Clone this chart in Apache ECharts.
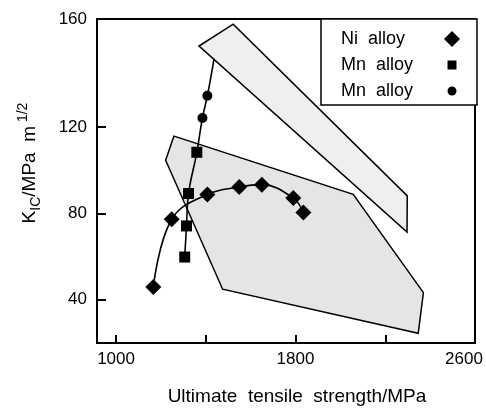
<!DOCTYPE html>
<html>
<head>
<meta charset="utf-8">
<script src="https://cdn.jsdelivr.net/npm/echarts@6/dist/echarts.min.js"></script>
<style>html,body{margin:0;padding:0;background:#fff;}#c{width:486px;height:408px;}</style>
</head>
<body>
<div id="c"></div>
<script>
// ---- data ----
var niX = [1166, 1248, 1407, 1549, 1650, 1790, 1835];
var niY = [45.9, 77.3, 88.8, 92.2, 93.3, 87.1, 80.4];
var mnSqX = [1306, 1314, 1323, 1360];
var mnSqY = [59.8, 74.2, 89.2, 108.3];
var mnCirX = [1385, 1407];
var mnCirY = [124.2, 134.5];
var mnCurveEndX = [1437];
var mnCurveEndY = [151.7];
var poly1X = [1258, 1221, 1475, 2347, 2370, 2057];
var poly1Y = [115.8, 104.6, 44.9, 24.5, 43.3, 88.8];
var poly2X = [1370, 1522, 2298, 2297];
var poly2Y = [157.5, 167.6, 88.1, 71.4];
var xTickValues = [1000, 1400, 1800, 2200];
var xLabelValues = [1000, 1800, 2600];
var yTickValues = [40, 80, 120];
var yLabelValues = [40, 80, 120, 170];
var yLabelTexts = {40: '40', 80: '80', 120: '120', 170: '160'};
var legendNames = {'Ni alloy': 'Ni  alloy', 'Mn alloy A': 'Mn  alloy', 'Mn alloy B': 'Mn  alloy'};

function pairs(xs, ys) { return xs.map(function (x, i) { return [x, ys[i]]; }); }
var FONT = 'Liberation Sans, Arial, Helvetica, sans-serif';

function polySeries(xs, ys, fill) {
  return {
    type: 'custom', coordinateSystem: 'cartesian2d', silent: true, z: 1,
    data: pairs(xs, ys),
    renderItem: function (params, api) {
      if (params.dataIndex !== 0) return null;
      var pts = xs.map(function (x, i) { return api.coord([x, ys[i]]); });
      return { type: 'polygon', shape: { points: pts }, style: { fill: fill, stroke: '#000', lineWidth: 1.5 } };
    }
  };
}

var chart = echarts.init(document.getElementById('c'), null, { renderer: 'canvas' });
chart.setOption({
  animation: false,
  backgroundColor: '#fff',
  grid: { left: 97, right: 11, top: 19, bottom: 65, outerBoundsMode: 'none', containLabel: false,
    show: true, borderColor: '#000', borderWidth: 2, backgroundColor: 'transparent' },
  legend: {
    orient: 'vertical', left: 321, top: 19, align: 'right',
    padding: [11, 17, 5, 20], itemGap: 8, itemWidth: 16, itemHeight: 16,
    backgroundColor: '#fff', borderColor: '#000', borderWidth: 1.5, borderRadius: 0,
    selectedMode: false,
    data: [
      { name: 'Ni alloy', icon: 'path://M8,0L16,8L8,16L0,8Z' },
      { name: 'Mn alloy A', icon: 'path://M0,0M16,16M3.5,3.5L12.5,3.5L12.5,12.5L3.5,12.5Z' },
      { name: 'Mn alloy B', icon: 'path://M0,0M16,16M3.5,8A4.5,4.5,0,1,1,12.5,8A4.5,4.5,0,1,1,3.5,8Z' }
    ],
    formatter: function (n) { return '{t|' + legendNames[n] + '}'; },
    textStyle: { fontFamily: FONT, fontSize: 18, color: '#000',
      rich: { t: { width: 98, align: 'left', fontFamily: FONT, fontSize: 18, lineHeight: 16, color: '#000' } } }
  },
  xAxis: {
    type: 'value', min: 915, max: 2600,
    splitLine: { show: false },
    axisLine: { show: true, onZero: false, lineStyle: { color: '#000', width: 2 } },
    axisTick: { show: true, inside: true, length: 8, customValues: xTickValues, lineStyle: { color: '#000', width: 2 } },
    axisLabel: {
      customValues: xLabelValues, margin: 8, color: '#000', fontFamily: FONT, fontSize: 17,
      formatter: function (v) { return v === 2600 ? '{r|2600}' : String(v); },
      rich: { r: { padding: [0, 22, 0, 0], fontFamily: FONT, fontSize: 17, color: '#000' } }
    },
    name: 'Ultimate  tensile  strength/MPa',
    nameLocation: 'middle', nameGap: 44,
    nameTextStyle: { fontFamily: FONT, fontSize: 19, color: '#000', padding: [0, 0, 0, 22] }
  },
  yAxis: {
    type: 'value', min: 20, max: 170,
    splitLine: { show: false },
    axisLine: { show: true, onZero: false, lineStyle: { color: '#000', width: 2 } },
    axisTick: { show: true, inside: true, length: 9, customValues: yTickValues, lineStyle: { color: '#000', width: 2 } },
    axisLabel: {
      customValues: yLabelValues, margin: 10, color: '#000', fontFamily: FONT, fontSize: 17,
      formatter: function (v) { return yLabelTexts[v]; }
    },
    name: '{m|K}{s|IC}{m|/MPa  m}{p| 1/2}',
    nameLocation: 'middle', nameRotate: 90, nameGap: 54,
    nameTextStyle: {
      fontFamily: FONT, fontSize: 19, color: '#000', padding: [0, 0, 0, 36],
      rich: {
        m: { fontFamily: FONT, fontSize: 19, lineHeight: 27, verticalAlign: 'middle', color: '#000' },
        s: { fontFamily: FONT, fontSize: 14, lineHeight: 13, verticalAlign: 'bottom', color: '#000' },
        p: { fontFamily: FONT, fontSize: 14, lineHeight: 13, verticalAlign: 'top', color: '#000' }
      }
    }
  },
  series: [
    polySeries(poly1X, poly1Y, '#e5e5e5'),
    polySeries(poly2X, poly2Y, '#efefef'),
    {
      name: 'Ni curve', type: 'line', data: pairs(niX, niY), smooth: 0.4, showSymbol: false, symbol: 'none',
      lineStyle: { color: '#000', width: 1.6 }, z: 3, silent: true
    },
    {
      name: 'Mn curve', type: 'line',
      data: pairs(mnSqX.concat(mnCirX, mnCurveEndX), mnSqY.concat(mnCirY, mnCurveEndY)),
      smooth: 0.4, showSymbol: false, symbol: 'none',
      lineStyle: { color: '#000', width: 1.6 }, z: 3, silent: true
    },
    { name: 'Ni alloy', type: 'scatter', data: pairs(niX, niY), symbol: 'diamond', symbolSize: 16, itemStyle: { color: '#000', opacity: 1 }, z: 5 },
    { name: 'Mn alloy A', type: 'scatter', data: pairs(mnSqX, mnSqY), symbol: 'rect', symbolSize: 11, itemStyle: { color: '#000', opacity: 1 }, z: 5 },
    { name: 'Mn alloy B', type: 'scatter', data: pairs(mnCirX, mnCirY), symbol: 'circle', symbolSize: 10, itemStyle: { color: '#000', opacity: 1 }, z: 5 }
  ]
});
</script>
</body>
</html>
